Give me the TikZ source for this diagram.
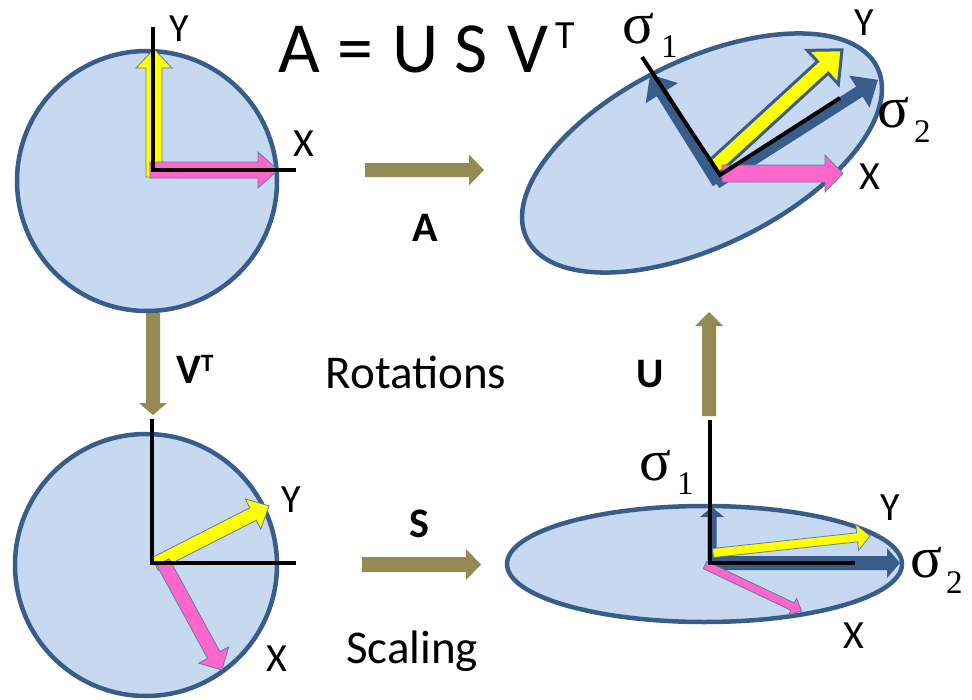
\documentclass[tikz,border=0pt]{standalone}
\usepackage{fontspec}
\setmainfont{Carlito}
\newfontfamily\sigfont{Liberation Serif}
\definecolor{fillblue}{RGB}{198,217,240}
\definecolor{edgeblue}{RGB}{56,93,138}
\definecolor{olivearrow}{RGB}{148,138,84}
\definecolor{pinkarrow}{RGB}{255,102,204}
\definecolor{yellowarrow}{RGB}{255,255,0}
% block arrow: options, x, y, angle, length, shaft width, head width, head length
\newcommand\blockarr[8]{%
  \begin{scope}[shift={(#2,#3)},rotate=#4]
    \path[#1] (0,{-#6/2}) -- ({#5-#8},{-#6/2}) -- ({#5-#8},{-#7/2}) -- (#5,0)
      -- ({#5-#8},{#7/2}) -- ({#5-#8},{#6/2}) -- (0,{#6/2}) -- cycle;
  \end{scope}}
\tikzset{
  disc/.style={fill=fillblue, draw=edgeblue, line width=4.5pt},
  axline/.style={draw=black, line width=4pt, line join=miter},
  yel/.style={fill=yellowarrow, draw=edgeblue!80, line width=0.8pt},
  yelthick/.style={fill=yellowarrow, draw=edgeblue, line width=3pt, line join=miter},
  pnk/.style={fill=pinkarrow, draw=edgeblue!80, line width=0.8pt},
  bluearr/.style={fill=edgeblue, draw=none},
  olv/.style={fill=olivearrow, draw=none},
  lbl/.style={inner sep=0, font=\fontsize{40}{40}\selectfont},
  blbl/.style={inner sep=0, font=\bfseries\fontsize{42}{42}\selectfont},
  sig/.style={anchor=base west, inner sep=0, font=\sigfont\fontsize{59}{59}\selectfont},
  sublbl/.style={anchor=base west, inner sep=0, font=\sigfont\fontsize{33}{33}\selectfont},
  txt/.style={anchor=base, inner sep=0, font=\fontsize{47}{47}\selectfont},
  ttl/.style={anchor=base, inner sep=0, font=\fontsize{72}{72}\selectfont}
}
\begin{document}
\begin{tikzpicture}[x=1pt,y=-1pt]
\useasboundingbox[fill=white] (0,0) rectangle (972,699);

% ---------- top-left: unit circle ----------
\coordinate (o1) at (153,170);
\draw[disc] (147,181) circle [radius=130];
\blockarr{yel}{154}{177}{90}{128}{16}{36}{19}
\blockarr{pnk}{150}{170}{0}{128}{16}{36}{20}
\draw[axline] (153,27) -- (o1) -- (296,170);
\node[lbl] (y1) at (179,29) {Y};
\node[lbl] (x1) at (304,144) {X};

% ---------- title ----------
\node[ttl] (t1) at (299.5,72) {A};
\node[ttl] (t2) at (355.5,72) {=};
\node[ttl] (t3) at (416,72) {U};
\node[ttl] (t4) at (471,72) {S};
\node[ttl] (t5) at (528,72) {V};
\node[ttl, font=\fontsize{40}{40}\selectfont] (t6) at (565,48) {T};

% ---------- top-right: rotated ellipse ----------
\coordinate (o2) at (720,175);
\draw[disc, rotate around={26:(702,153)}] (702,153) ellipse [x radius=195, y radius=93];
\blockarr{bluearr}{718}{183}{122}{128}{12}{38}{22}
\blockarr{bluearr}{716}{183}{32.5}{192}{12}{38}{22}
\blockarr{yelthick}{713}{168}{42.5}{175}{16}{46}{26}
\blockarr{pnk}{722}{173.5}{0}{121}{17}{37}{18}
\draw[axline] (642,57) -- (o2) -- (840,98);
\node[sig] (s1a) at (622,43) {σ};
\node[sublbl] (s1b) at (661,57) {1};
\node[sig] (s2a) at (877,127) {σ};
\node[sublbl] (s2b) at (914,142) {2};
\node[lbl] (y2) at (864,23) {Y};
\node[lbl] (x2) at (870,177) {X};

% ---------- bottom-left: rotated axes in circle ----------
\coordinate (o3) at (152,563);
\draw[disc] (146,565) circle [radius=131];
\blockarr{yel}{155}{564}{27}{128}{14}{34}{18}
\blockarr{pnk}{163}{562}{-61.4}{123}{14}{34}{17}
\draw[axline] (152,419) -- (o3) -- (296,563);
\node[lbl] (y3) at (291,500) {Y};
\node[lbl] (x3) at (277,659) {X};

% ---------- bottom-right: axis-aligned ellipse ----------
\coordinate (o4) at (710,563);
\draw[disc] (704.5,564) ellipse [x radius=197.5, y radius=58];
\blockarr{bluearr}{712}{565}{90}{58}{9}{24}{10}
\blockarr{bluearr}{708}{563}{0}{192}{14}{30}{13}
\blockarr{yel}{713}{553}{6.2}{158}{9}{26}{13}
\blockarr{pnk}{705}{565}{-25.4}{107}{8}{18}{10}
\draw[axline] (710,420) -- (o4) -- (855,563);
\node[sig] (s3a) at (639,480) {σ};
\node[sublbl] (s3b) at (677,494) {1};
\node[sig] (s4a) at (910,577) {σ};
\node[sublbl] (s4b) at (946,593) {2};
\node[lbl] (y4) at (890,508) {Y};
\node[lbl] (x4) at (854,636) {X};

% ---------- transition arrows ----------
\blockarr{olv}{365}{170}{0}{119}{14}{31}{15}
\blockarr{olv}{153}{313}{-90}{102}{14}{28}{12}
\blockarr{olv}{709}{416}{90}{104}{14}{28}{14}
\blockarr{olv}{362}{564.5}{0}{119}{15}{31}{15}
\node[blbl] (la) at (425,228) {A};
\node[blbl, anchor=base west] (lv) at (176,383) {V\raisebox{12pt}{\fontsize{25}{25}\selectfont T}};
\node[blbl] (lu) at (650,374) {U};
\node[blbl] (ls) at (419,523.5) {S};
\node[txt] (rot) at (416,388) {Rotations};
\node[txt] (scl) at (412,663) {Scaling};
\end{tikzpicture}
\end{document}
